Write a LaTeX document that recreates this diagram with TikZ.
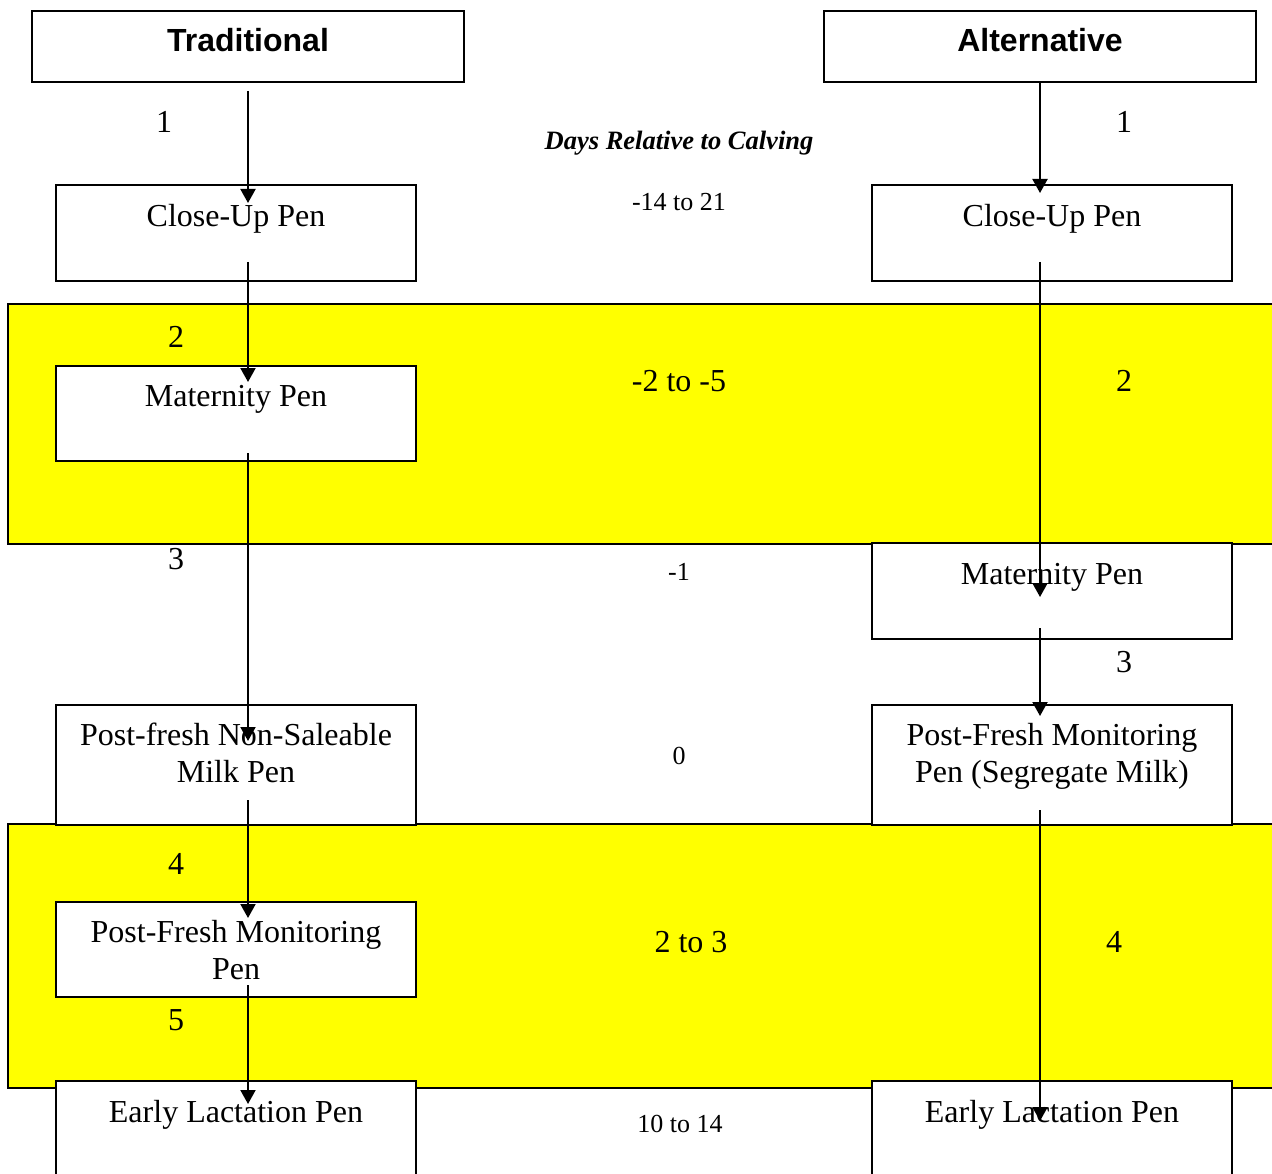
\documentclass[tikz,border=0pt]{standalone}
\usepackage{fontspec}
\setmainfont{Liberation Serif}
\newfontfamily\hdrfont{Liberation Sans}
\usetikzlibrary{arrows.meta}
\definecolor{bandyellow}{HTML}{FFFF00}
\begin{document}
\begin{tikzpicture}[x=1pt,y=-1pt,
  box/.style={draw=black,line width=2pt,fill=white,inner sep=0pt,outer sep=0pt,anchor=north west},
  band/.style={draw=black,line width=2pt,fill=bandyellow},
  lbl/.style={font=\fontsize{32}{38}\selectfont,anchor=base,inner sep=0pt},
  small/.style={font=\fontsize{26}{31}\selectfont,anchor=base,inner sep=0pt},
  hdr/.style={font=\hdrfont\bfseries\fontsize{32}{38}\selectfont,anchor=base,inner sep=0pt},
  arr/.style={line width=2pt,-{Triangle[width=15pt,length=14pt]}}]
\useasboundingbox (0,0) rectangle (1272,1174);
\clip (0,0) rectangle (1272,1174);
\fill[white] (0,0) rectangle (1272,1174);
% bands
\draw[band] (8,304) rectangle (1300,544);
\draw[band] (8,824) rectangle (1300,1088);
% header boxes
\node[box,minimum width=432pt,minimum height=71pt] (trad) at (32,11) {};
\node[box,minimum width=432pt,minimum height=71pt] (alt) at (824,11) {};
% left boxes
\node[box,minimum width=360pt,minimum height=96pt] (lcu) at (56,185) {};
\node[box,minimum width=360pt,minimum height=95pt] (lmat) at (56,366) {};
\node[box,minimum width=360pt,minimum height=120pt] (lns) at (56,705) {};
\node[box,minimum width=360pt,minimum height=95pt] (lpfm) at (56,902) {};
\node[box,minimum width=360pt,minimum height=130pt] (lel) at (56,1081) {};
% right boxes
\node[box,minimum width=360pt,minimum height=96pt] (rcu) at (872,185) {};
\node[box,minimum width=360pt,minimum height=96pt] (rmat) at (872,543) {};
\node[box,minimum width=360pt,minimum height=120pt] (rpfm) at (872,705) {};
\node[box,minimum width=360pt,minimum height=130pt] (rel) at (872,1081) {};
% header texts
\node[hdr] (tradt) at (248,52) {Traditional};
\node[hdr] (altt) at (1040,52) {Alternative};
% left box texts
\node[lbl] (lcut) at (236,227) {Close-Up Pen};
\node[lbl] (lmatt) at (236,406) {Maternity Pen};
\node[lbl] (lnsa) at (236,745) {Post-fresh Non-Saleable};
\node[lbl] (lnsb) at (236,782) {Milk Pen};
\node[lbl] (lpfma) at (236,942) {Post-Fresh Monitoring};
\node[lbl] (lpfmb) at (236,979) {Pen};
\node[lbl] (lelt) at (236,1122) {Early Lactation Pen};
% right box texts
\node[lbl] (rcut) at (1052,227) {Close-Up Pen};
\node[lbl] (rmatt) at (1052,584) {Maternity Pen};
\node[lbl] (rpfma) at (1052,745) {Post-Fresh Monitoring};
\node[lbl] (rpfmb) at (1052,782) {Pen (Segregate Milk)};
\node[lbl] (relt) at (1052,1122) {Early Lactation Pen};
% step numbers
\node[lbl] (ln1) at (164,133) {1};
\node[lbl] (ln2) at (176,348) {2};
\node[lbl] (ln3) at (176,569) {3};
\node[lbl] (ln4) at (176,874) {4};
\node[lbl] (ln5) at (176,1030) {5};
\node[lbl] (rn1) at (1124,133) {1};
\node[lbl] (rn2) at (1124,391) {2};
\node[lbl] (rn3) at (1124,672) {3};
\node[lbl] (rn4) at (1114,952) {4};
% centre column
\node[small,font=\bfseries\itshape\fontsize{26.5}{31}\selectfont] (days) at (679,150) {Days Relative to Calving};
\node[small] (d1) at (679,211) {-14 to 21};
\node[lbl] (d2) at (679,391) {-2 to -5};
\node[small] (d3) at (679,580) {-1};
\node[small] (d4) at (679,764) {0};
\node[lbl] (d5) at (691,952) {2 to 3};
\node[small] (d6) at (680,1132) {10 to 14};
% arrow end coordinates
\coordinate (la1s) at (248,91);  \coordinate (la1e) at (248,203);
\coordinate (la2s) at (248,262); \coordinate (la2e) at (248,382);
\coordinate (la3s) at (248,453); \coordinate (la3e) at (248,741);
\coordinate (la4s) at (248,800); \coordinate (la4e) at (248,918);
\coordinate (la5s) at (248,985); \coordinate (la5e) at (248,1104);
\coordinate (ra1e) at (1040,193);
\coordinate (ra2s) at (1040,262); \coordinate (ra2e) at (1040,597);
\coordinate (ra3s) at (1040,628); \coordinate (ra3e) at (1040,716);
\coordinate (ra4s) at (1040,810); \coordinate (ra4e) at (1040,1121);
% arrows
\draw[arr] (la1s) -- (la1e);
\draw[arr] (la2s) -- (la2e);
\draw[arr] (la3s) -- (la3e);
\draw[arr] (la4s) -- (la4e);
\draw[arr] (la5s) -- (la5e);
\draw[arr] (alt.south) -- (ra1e);
\draw[arr] (ra2s) -- (ra2e);
\draw[arr] (ra3s) -- (ra3e);
\draw[arr] (ra4s) -- (ra4e);
\end{tikzpicture}
\end{document}
